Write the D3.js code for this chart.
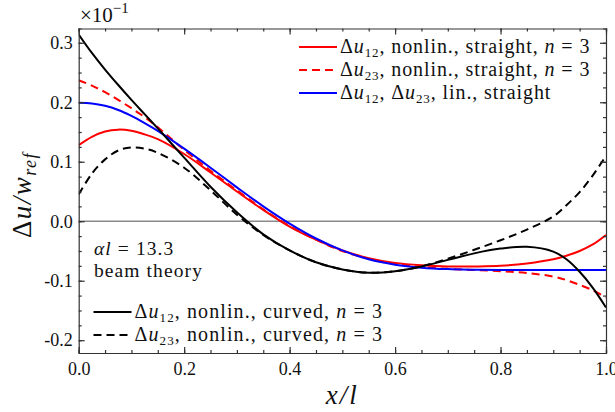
<!DOCTYPE html>
<meta charset="utf-8">
<style>
body { margin: 0; background: #fff; }
svg text { font-family: "Liberation Serif", "Times New Roman", serif; fill: #111; }
.axis path, .axis line { fill: none; stroke: #333; stroke-width: 1.2; }
.axis text { font-size: 18px; }
.lab { letter-spacing: 1.1px; }
</style>
<body>
<script src="https://cdn.jsdelivr.net/npm/d3@7"></script>
<script>

// x positions (x/l) shared by every curve
const xs = [0, 0.025, 0.05, 0.075, 0.1, 0.125, 0.15, 0.2, 0.25, 0.3, 0.35, 0.4, 0.45,
            0.5, 0.55, 0.6, 0.65, 0.7, 0.75, 0.8, 0.85, 0.9, 0.925, 0.95, 0.975, 1.0];

const u12NonlinStraight = [0.128, 0.142, 0.151, 0.154, 0.152, 0.146, 0.138, 0.113, 0.082, 0.050, 0.019, -0.009, -0.031,
                           -0.049, -0.062, -0.070, -0.074, -0.076, -0.076, -0.075, -0.071, -0.064, -0.058, -0.050, -0.039, -0.023];
const u23NonlinStraight = [0.237, 0.228, 0.217, 0.204, 0.190, 0.175, 0.158, 0.120, 0.085, 0.052, 0.020, -0.008, -0.031,
                           -0.050, -0.063, -0.072, -0.077, -0.080, -0.082, -0.084, -0.087, -0.093, -0.099, -0.107, -0.116, -0.128];
const linStraight = [0.199, 0.198, 0.194, 0.187, 0.177, 0.165, 0.152, 0.122, 0.090, 0.057, 0.025, -0.004, -0.029,
                     -0.049, -0.064, -0.073, -0.078, -0.0805, -0.0815, -0.082, -0.082, -0.082, -0.082, -0.082, -0.082, -0.082];
const u12NonlinCurved = [0.314, 0.283, 0.255, 0.229, 0.204, 0.180, 0.156, 0.107, 0.058, 0.015, -0.022, -0.049, -0.069,
                         -0.081, -0.0865, -0.084, -0.076, -0.065, -0.054, -0.046, -0.043, -0.051, -0.064, -0.085, -0.112, -0.145];
const u23NonlinCurved = [0.045, 0.080, 0.104, 0.119, 0.124, 0.122, 0.115, 0.090, 0.052, 0.011, -0.023, -0.049, -0.069,
                         -0.081, -0.0865, -0.084, -0.076, -0.063, -0.048, -0.032, -0.014, 0.008, 0.027, 0.049, 0.077, 0.110];

const xTicks = [0, 0.2, 0.4, 0.6, 0.8, 1.0];
const yTicks = [-0.2, -0.1, 0.0, 0.1, 0.2, 0.3];

const series = [
  {name: "u12s", values: u12NonlinStraight, color: "#ff0000", dash: null},
  {name: "u23s", values: u23NonlinStraight, color: "#ff0000", dash: "8,5"},
  {name: "lin",  values: linStraight,       color: "#0000ff", dash: null},
  {name: "u12c", values: u12NonlinCurved,   color: "#000000", dash: null},
  {name: "u23c", values: u23NonlinCurved,   color: "#000000", dash: "8,5"}
];

const width = 615, height = 412;
const margin = {top: 28.5, right: 9, bottom: 59, left: 78.7};

const svg = d3.select("body").append("svg")
    .attr("width", width)
    .attr("height", height);

const x = d3.scaleLinear()
    .domain([0, 1])
    .range([margin.left, width - margin.right]);

const y = d3.scaleLinear()
    .domain([-0.2215, 0.324])
    .range([height - margin.bottom, margin.top]);

svg.append("defs").append("clipPath").attr("id", "clip")
  .append("rect")
    .attr("x", margin.left).attr("y", margin.top)
    .attr("width", x(1) - x(0)).attr("height", y.range()[0] - y.range()[1]);

// zero line
svg.append("line")
    .attr("x1", x(0)).attr("x2", x(1))
    .attr("y1", y(0)).attr("y2", y(0))
    .attr("stroke", "#8a8a8a")
    .attr("stroke-width", 1.5);

const line = d3.line()
    .x((d, i) => x(xs[i]))
    .y(d => y(d))
    .curve(d3.curveCatmullRom);

svg.append("g")
    .attr("clip-path", "url(#clip)")
  .selectAll("path")
  .data(series)
  .join("path")
    .attr("fill", "none")
    .attr("stroke", d => d.color)
    .attr("stroke-width", 2)
    .attr("stroke-dasharray", d => d.dash)
    .attr("d", d => line(d.values));

// axes: ticks inward on all four sides
const xMinor = d3.range(0, 1.0001, 0.05);
const yMinor = d3.range(-0.2, 0.3001, 0.025);

function ticksAt(axis, vals, size) {
  return axis.tickValues(vals).tickSize(size).tickFormat("");
}

const fmt = d => d.toFixed(1);

const axBottom = svg.append("g").attr("class", "axis")
    .attr("transform", `translate(0,${y.range()[0]})`);
axBottom.call(ticksAt(d3.axisBottom(x), xMinor, -3));
axBottom.append("g").call(d3.axisBottom(x).tickValues(xTicks).tickSize(-6).tickPadding(9).tickFormat(fmt))
  .call(g => g.select(".domain").remove());

const axTop = svg.append("g").attr("class", "axis")
    .attr("transform", `translate(0,${y.range()[1]})`);
axTop.call(ticksAt(d3.axisTop(x), xMinor, -3));
axTop.append("g").call(ticksAt(d3.axisTop(x), xTicks, -6))
  .call(g => g.select(".domain").remove());

const axLeft = svg.append("g").attr("class", "axis")
    .attr("transform", `translate(${x(0)},0)`);
axLeft.call(ticksAt(d3.axisLeft(y), yMinor, -3));
axLeft.append("g").call(d3.axisLeft(y).tickValues(yTicks).tickSize(-6).tickPadding(6).tickFormat(fmt))
  .call(g => g.select(".domain").remove());

const axRight = svg.append("g").attr("class", "axis")
    .attr("transform", `translate(${x(1)},0)`);
axRight.call(ticksAt(d3.axisRight(y), yMinor, -3));
axRight.append("g").call(ticksAt(d3.axisRight(y), yTicks, -6))
  .call(g => g.select(".domain").remove());

// multiplier
const mult = svg.append("text").attr("x", 80).attr("y", 22).style("font-size", "21px");
mult.append("tspan").text("×10");
mult.append("tspan").attr("dy", -9).style("font-size", "15px").text("−1");

// axis titles
const yl = svg.append("text")
    .attr("transform", "translate(31,195) rotate(-90)")
    .attr("text-anchor", "middle")
    .style("font-size", "27px")
    .style("letter-spacing", "1.5px");
yl.append("tspan").text("Δ");
yl.append("tspan").attr("font-style", "italic").text("u/w");
yl.append("tspan").attr("font-style", "italic").style("font-size", "18px").attr("dy", 5).text("ref");

svg.append("text")
    .attr("x", x(0.5)).attr("y", 404)
    .attr("text-anchor", "middle")
    .style("font-size", "27px")
    .style("letter-spacing", "2px")
    .attr("font-style", "italic")
    .text("x/l");

// annotation
const ann = svg.append("g").attr("class", "lab").style("font-size", "19.5px");
const a1 = ann.append("text").attr("x", 94).attr("y", 255);
a1.append("tspan").attr("font-style", "italic").text("αl");
a1.append("tspan").text(" = 13.3");
ann.append("text").attr("x", 94).attr("y", 277).text("beam theory");

// legends
function legendLabel(t, sub, rest, withN) {
  t.append("tspan").text("Δ");
  t.append("tspan").attr("font-style", "italic").text("u");
  t.append("tspan").style("font-size", "13px").attr("dy", 4).text(sub);
  t.append("tspan").attr("dy", -4).text(rest);
  if (withN) {
    t.append("tspan").attr("font-style", "italic").text("n");
    t.append("tspan").text(" = 3");
  }
}

const topLegend = [
  {s: series[0], build: t => legendLabel(t, "12", ", nonlin., straight, ", true)},
  {s: series[1], build: t => legendLabel(t, "23", ", nonlin., straight, ", true)},
  {s: series[2], build: t => {
    legendLabel(t, "12", ", ", false);
    t.append("tspan").text("Δ");
    t.append("tspan").attr("font-style", "italic").text("u");
    t.append("tspan").style("font-size", "13px").attr("dy", 4).text("23");
    t.append("tspan").attr("dy", -4).text(", lin., straight");
  }}
];
const topRows = [47, 70, 93];
topLegend.forEach((d, i) => {
  const g = svg.append("g").attr("transform", `translate(299,${topRows[i]})`);
  g.append("line").attr("x1", 0).attr("x2", 38)
      .attr("stroke", d.s.color).attr("stroke-width", 2).attr("stroke-dasharray", d.s.dash);
  const t = g.append("text").attr("x", 41).attr("y", 5.5)
      .style("font-size", "20px").style("letter-spacing", "0.9px");
  d.build(t);
});

const bottomLegend = [
  {s: series[3], sub: "12"},
  {s: series[4], sub: "23"}
];
const bottomRows = [312, 335];
bottomLegend.forEach((d, i) => {
  const g = svg.append("g").attr("transform", `translate(93.5,${bottomRows[i]})`);
  g.append("line").attr("x1", 0).attr("x2", 38)
      .attr("stroke", d.s.color).attr("stroke-width", 2).attr("stroke-dasharray", d.s.dash);
  const t = g.append("text").attr("class", "lab").attr("x", 41).attr("y", 5.5).style("font-size", "20px");
  legendLabel(t, d.sub, ", nonlin., curved, ", true);
});

</script>
